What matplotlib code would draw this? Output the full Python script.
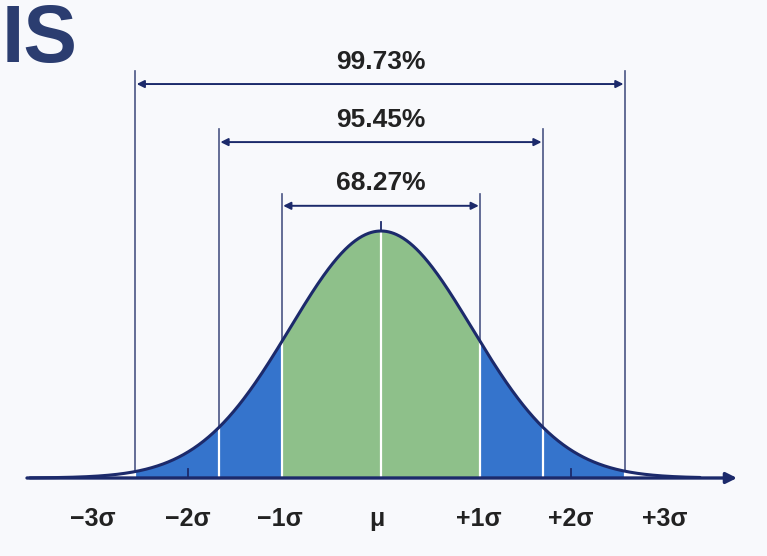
import numpy as np
import matplotlib
matplotlib.use("Agg")
import matplotlib.pyplot as plt

# ---- data (x in units of the drawn curve's standard deviation) ----
tick_labels = ["\u22123\u03c3", "\u22122\u03c3", "\u22121\u03c3", "\u03bc", "+1\u03c3", "+2\u03c3", "+3\u03c3"]
tick_positions = [-3.17, -2.12, -1.11, -0.04, 1.07, 2.09, 3.12]
boundaries = [-2.70, -1.78, -1.09, 0.0, 1.09, 1.78, 2.68]
percent_labels = ["68.27%", "95.45%", "99.73%"]
bracket_pairs = [(-1.09, 1.09), (-1.78, 1.78), (-2.70, 2.68)]
bracket_heights = [1.102, 1.360, 1.595]     # arrow heights (curve peak = 1)
line_tops = [1.151, 1.412, 1.647]
label_heights = [1.194, 1.449, 1.684]

BG = "#f8f9fc"
NAVY = "#1c2a6b"
BLUE = "#3574cc"
GREEN = "#8ec08a"
LINE = "#4a5584"

fig = plt.figure(figsize=(7.67, 5.56), dpi=100)
fig.patch.set_facecolor(BG)
ax = fig.add_axes([0, 0, 1, 1])
ax.set_facecolor(BG)
ax.set_xlim((0 - 381) / 91, (767 - 381) / 91)
ax.set_ylim((478 - 556) / 247, 478 / 247)
ax.axis("off")

def f(x):
    return np.exp(-0.5 * np.asarray(x) ** 2)

# fills
segs = [(boundaries[0], boundaries[1], BLUE), (boundaries[1], boundaries[2], BLUE),
        (boundaries[2], boundaries[4], GREEN),
        (boundaries[4], boundaries[5], BLUE), (boundaries[5], boundaries[6], BLUE)]
for a, b, c in segs:
    xs = np.linspace(a, b, 200)
    ax.fill_between(xs, 0, f(xs), color=c, lw=0, zorder=1)

# white separators inside the fill
for b in boundaries:
    ax.plot([b, b], [0, f(b)], color="white", lw=1.6, zorder=2)

# dark vertical lines above the curve
for (a, b), top in zip(bracket_pairs, line_tops):
    for x in (a, b):
        ax.plot([x, x], [f(x), top], color=LINE, lw=1.2, zorder=2)

# curve
xc = np.linspace((30 - 381) / 91, (700 - 381) / 91, 800)
ax.plot(xc, f(xc), color=NAVY, lw=2.2, zorder=4, solid_capstyle="round")

# tick above peak
ax.plot([0, 0], [1.0, 1.035], color=NAVY, lw=1.3, zorder=4)

# small ticks at +/-2 label positions
for x in (tick_positions[1], tick_positions[5]):
    ax.plot([x, x], [0, 0.035], color=NAVY, lw=1.3, zorder=3)

# axis with arrow
ax.annotate("", xy=((737 - 381) / 91, 0), xytext=((27 - 381) / 91, 0),
            arrowprops=dict(arrowstyle="-|>", color=NAVY, lw=2.4,
                            mutation_scale=16, shrinkA=0, shrinkB=0), zorder=5)

# brackets
for (a, b), h, lh, txt in zip(bracket_pairs, bracket_heights, label_heights, percent_labels):
    ax.annotate("", xy=(b, h), xytext=(a, h),
                arrowprops=dict(arrowstyle="<|-|>", color=NAVY, lw=1.4,
                                mutation_scale=11, shrinkA=1, shrinkB=1), zorder=5)
    ax.text(0, lh, txt, ha="center", va="center", fontsize=19, fontweight="bold",
            color="#222222", family="Liberation Sans")

# tick labels
for x, t in zip(tick_positions, tick_labels):
    ax.text(x, (478 - 519) / 247, t, ha="center", va="center", fontsize=18,
            fontweight="bold", color="#222222", family="Liberation Sans")

# cropped heading fragment at top-left
fig.text(0.002, 0.995, "IS", ha="left", va="top", fontsize=58, fontweight="bold",
         color="#2b3d70", family="Liberation Sans")

fig.savefig("out.png", dpi=100, facecolor=BG)
